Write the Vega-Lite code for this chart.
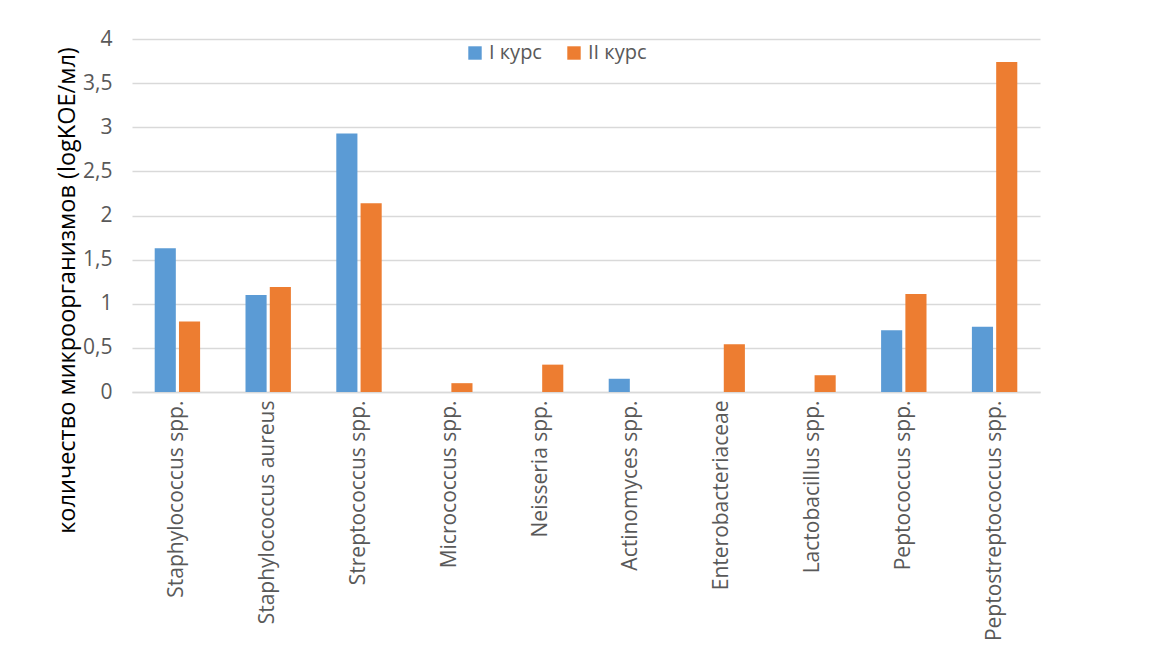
{
  "$schema": "https://vega.github.io/schema/vega-lite/v6.json",
  "width": 908,
  "height": 353,
  "padding": {"left": 55, "top": 28, "right": 5, "bottom": 5},
  "background": "white",
  "data": {
    "values": [
      {"group": "Staphylococcus spp.", "series": "I курс", "value": 1.63},
      {"group": "Staphylococcus spp.", "series": "II курс", "value": 0.80},
      {"group": "Staphylococcus aureus", "series": "I курс", "value": 1.10},
      {"group": "Staphylococcus aureus", "series": "II курс", "value": 1.19},
      {"group": "Streptococcus spp.", "series": "I курс", "value": 2.93},
      {"group": "Streptococcus spp.", "series": "II курс", "value": 2.14},
      {"group": "Micrococcus spp.", "series": "I курс", "value": 0},
      {"group": "Micrococcus spp.", "series": "II курс", "value": 0.10},
      {"group": "Neisseria spp.", "series": "I курс", "value": 0},
      {"group": "Neisseria spp.", "series": "II курс", "value": 0.31},
      {"group": "Actinomyces spp.", "series": "I курс", "value": 0.15},
      {"group": "Actinomyces spp.", "series": "II курс", "value": 0},
      {"group": "Enterobacteriaceae", "series": "I курс", "value": 0},
      {"group": "Enterobacteriaceae", "series": "II курс", "value": 0.54},
      {"group": "Lactobacillus spp.", "series": "I курс", "value": 0},
      {"group": "Lactobacillus spp.", "series": "II курс", "value": 0.19},
      {"group": "Peptococcus spp.", "series": "I курс", "value": 0.70},
      {"group": "Peptococcus spp.", "series": "II курс", "value": 1.11},
      {"group": "Peptostreptococcus spp.", "series": "I курс", "value": 0.74},
      {"group": "Peptostreptococcus spp.", "series": "II курс", "value": 3.74}
    ]
  },
  "mark": {"type": "bar"},
  "encoding": {
    "x": {
      "field": "group",
      "type": "nominal",
      "sort": null,
      "scale": {"paddingInner": 0.5, "paddingOuter": 0.25},
      "axis": {
        "title": null,
        "labelAngle": -90,
        "labelFont": "Open Sans",
        "labelFontSize": 21,
        "labelColor": "#595959",
        "labelPadding": 8,
        "ticks": false,
        "domainColor": "#D9D9D9",
        "domainWidth": 1.5,
        "labelLimit": 300
      }
    },
    "xOffset": {
      "field": "series",
      "type": "nominal",
      "scale": {"paddingInner": 0.13}
    },
    "y": {
      "field": "value",
      "type": "quantitative",
      "scale": {"domain": [0, 4]},
      "axis": {
        "title": "количество микроорганизмов (logKOE/мл)",
        "titleFont": "Open Sans",
        "titleFontSize": 23.5,
        "titleFontWeight": "normal",
        "titleColor": "#000000",
        "titleY": 251,
        "titlePadding": 3,
        "values": [0, 0.5, 1, 1.5, 2, 2.5, 3, 3.5, 4],
        "labelExpr": "replace(format(datum.value, '~g'), '.', ',')",
        "labelFont": "Open Sans",
        "labelFontSize": 21,
        "labelColor": "#595959",
        "labelPadding": 20,
        "ticks": false,
        "domain": false,
        "gridColor": "#D9D9D9",
        "gridWidth": 1.5
      }
    },
    "color": {
      "field": "series",
      "type": "nominal",
      "scale": {"domain": ["I курс", "II курс"], "range": ["#5B9BD5", "#ED7D31"]},
      "legend": {
        "title": null,
        "orient": "none",
        "direction": "horizontal",
        "legendX": 333,
        "legendY": 4,
        "symbolType": "square",
        "symbolSize": 180,
        "symbolStrokeWidth": 0,
        "labelFont": "Open Sans",
        "labelFontSize": 20,
        "labelColor": "#595959",
        "labelOffset": 4,
        "columnPadding": 22
      }
    }
  },
  "config": {"view": {"stroke": null}}
}
